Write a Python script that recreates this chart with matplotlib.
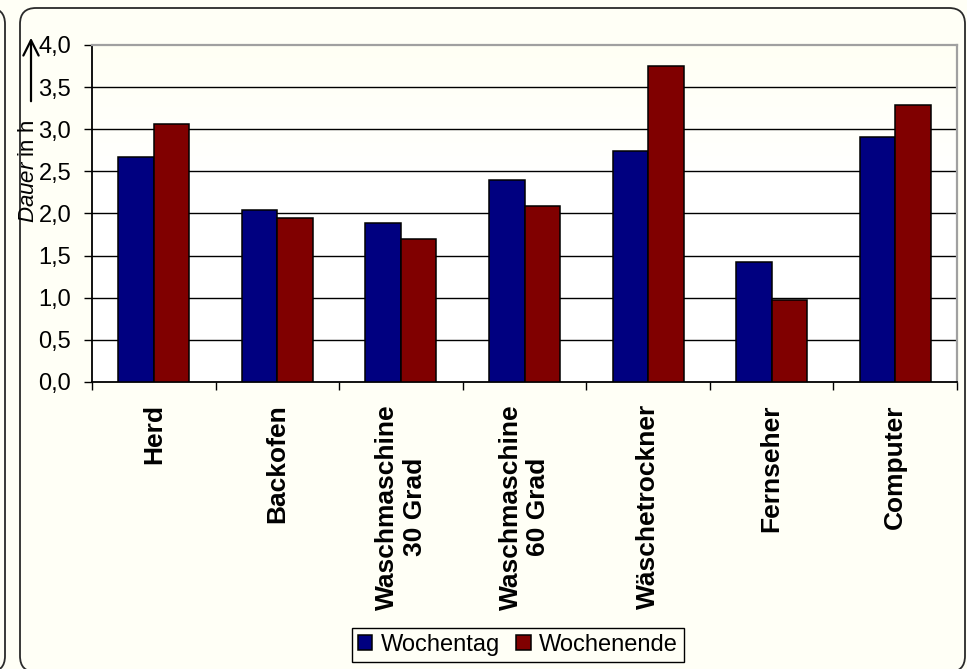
import numpy as np
import matplotlib
matplotlib.use("Agg")
import matplotlib.pyplot as plt
from matplotlib.patches import FancyBboxPatch
from matplotlib.colors import LinearSegmentedColormap

plt.rcParams['font.family'] = ['Liberation Sans', 'DejaVu Sans']
plt.rcParams['mathtext.fontset'] = 'custom'
plt.rcParams['mathtext.rm'] = 'Liberation Sans'
plt.rcParams['mathtext.it'] = 'Liberation Sans:italic'

categories = ["Herd", "Backofen", "Waschmaschine\n30 Grad", "Waschmaschine\n60 Grad",
              "Wäschetrockner", "Fernseher", "Computer"]
wochentag = [2.67, 2.04, 1.89, 2.40, 2.74, 1.43, 2.91]
wochenende = [3.06, 1.95, 1.70, 2.09, 3.75, 0.97, 3.29]
yticks = [0.0, 0.5, 1.0, 1.5, 2.0, 2.5, 3.0, 3.5, 4.0]
ytick_labels = ["0,0", "0,5", "1,0", "1,5", "2,0", "2,5", "3,0", "3,5", "4,0"]

W, H = 967, 669
bg = "#fffff6"
fig = plt.figure(figsize=(W / 100, H / 100), dpi=100, facecolor=bg)

# rounded chart frames drawn in pixel space behind everything
bgax = fig.add_axes([0, 0, 1, 1], zorder=-5)
bgax.set_xlim(0, W)
bgax.set_ylim(H, 0)
bgax.axis("off")
for x0, x1 in [(-400, 5), (20, 965)]:
    bgax.add_patch(FancyBboxPatch((x0, 8), x1 - x0, 664,
                                  boxstyle="round,pad=0,rounding_size=16",
                                  facecolor=bg, edgecolor="#2a2a2a", lw=1.3,
                                  clip_on=False))

ax = fig.add_axes([92 / W, 1 - 382 / H, (957 - 92) / W, (382 - 45) / H])
ax.set_facecolor("white")

# soft cream-to-white fill of the plotting area
cmap = LinearSegmentedColormap.from_list(
    "fill", [(0, "#ffffff"), (0.6, "#ffffff"), (1, "#fffff4")])
grad = np.linspace(0, 1, 256).reshape(-1, 1)
ax.imshow(grad, extent=[0, 1, 0, 1], transform=ax.transAxes, aspect="auto",
          cmap=cmap, origin="lower", zorder=0)

x = np.arange(len(categories))
w = 0.287
b1 = ax.bar(x - w / 2, wochentag, w, color="#000080", edgecolor="black", lw=1.1,
            label="Wochentag", zorder=3)
b2 = ax.bar(x + w / 2, wochenende, w, color="#800000", edgecolor="black", lw=1.1,
            label="Wochenende", zorder=3)

ax.set_xlim(-0.5, len(categories) - 0.5)
ax.set_ylim(0, 4)
ax.set_yticks(yticks)
ax.set_yticklabels(ytick_labels, fontsize=17)
ax.tick_params(axis="y", length=6, width=1, pad=9)
for yv in yticks[1:-1]:
    ax.axhline(yv, color="black", lw=1, zorder=1)

ax.set_xticks(np.arange(len(categories) + 1) - 0.5)
ax.set_xticklabels([])
ax.tick_params(axis="x", which="major", length=6, width=1)
ax.set_xticks(x, minor=True)
ax.set_xticklabels(categories, minor=True, rotation=90, fontsize=19,
                   fontweight="bold", ha="center", va="top", multialignment="center")
ax.tick_params(axis="x", which="minor", length=0, pad=16)

for s in ["left", "bottom"]:
    ax.spines[s].set_color("black")
    ax.spines[s].set_linewidth(1.3)
for s in ["top", "right"]:
    ax.spines[s].set_color("#a0a0a0")
    ax.spines[s].set_linewidth(1.6)

# axis title with arrow pointing up
fig.text(28 / W, 1 - 171 / H, r"$\mathit{Dauer}$ in h", rotation=90,
         ha="center", va="center", fontsize=16)
bgax.annotate("", xy=(31, 35), xytext=(31, 104),
              arrowprops=dict(arrowstyle="->,head_length=1.1,head_width=0.55",
                              color="black", lw=1.6))

leg = fig.legend(handles=[b1, b2], loc="center", ncol=2,
                 bbox_to_anchor=(518 / W, 1 - 645 / H), fontsize=17,
                 frameon=True, fancybox=False, edgecolor="black", facecolor=bg,
                 framealpha=1, handlelength=0.6, handleheight=0.6,
                 handletextpad=0.35, columnspacing=0.7, borderpad=0.25,
                 borderaxespad=0)
leg.get_frame().set_linewidth(1)

fig.savefig("out.png", dpi=100, facecolor=bg)
